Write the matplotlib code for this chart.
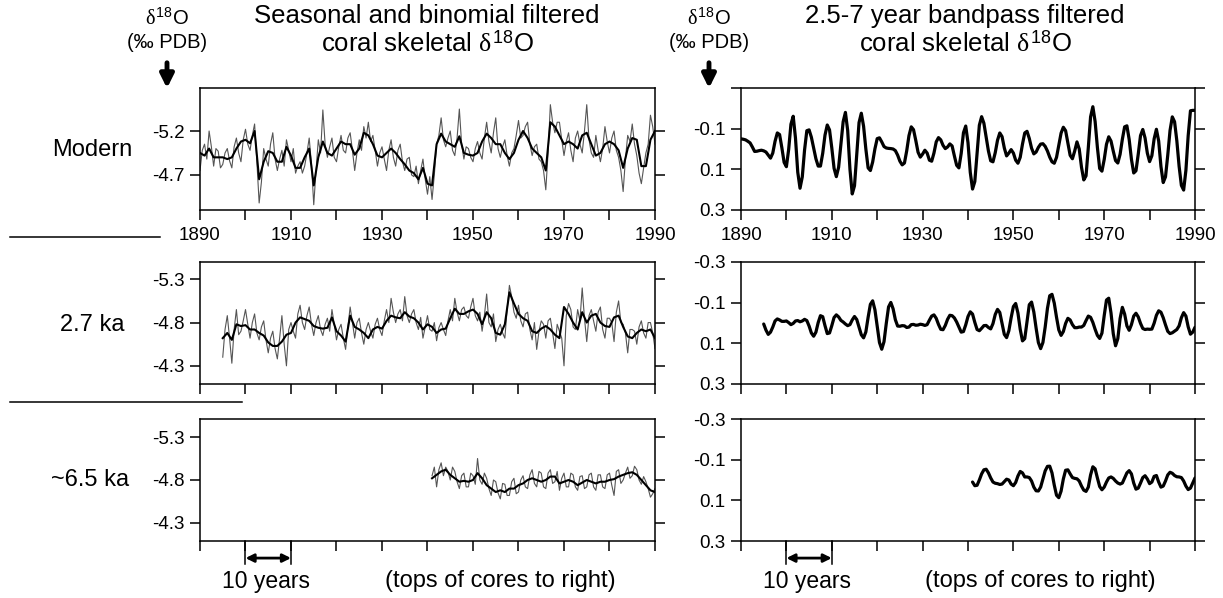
import numpy as np
import matplotlib
matplotlib.use("Agg")
import matplotlib.pyplot as plt
from matplotlib.lines import Line2D

plt.rcParams["font.family"] = ["Liberation Sans", "DejaVu Sans"]
plt.rcParams["axes.unicode_minus"] = False
plt.rcParams["mathtext.fontset"] = "custom"
plt.rcParams["mathtext.rm"] = "Liberation Sans"
plt.rcParams["mathtext.it"] = "Liberation Serif"

# ---- seasonal / binomial filtered d18O ----
# *_RAW: values at whole years, *_MID: values half a year later, *_SMOOTH: binomial line (yearly)
MOD_START = 1890
MOD_RAW = [-4.75, -5.05, -5.20, -4.80, -4.97, -4.82, -5.00, -4.78, -5.12, -4.85,
           -5.22, -4.98, -5.28, -4.38, -5.00, -4.80, -5.18, -4.75, -4.98, -5.10,
           -4.85, -4.72, -4.85, -4.80, -5.12, -4.36, -5.10, -5.44, -4.90, -5.12,
           -4.85, -5.15, -4.95, -5.18, -4.75, -5.10, -5.25, -5.30, -5.15, -4.80,
           -5.02, -4.75, -5.10, -4.80, -5.05, -4.75, -4.90, -4.68, -4.60, -4.88,
           -4.48, -4.42, -5.05, -5.35, -5.02, -5.20, -4.92, -5.45, -4.88, -5.00,
           -4.85, -5.08, -4.88, -5.30, -4.95, -5.35, -4.90, -5.10, -4.80, -5.00,
           -5.32, -5.15, -5.30, -4.92, -5.05, -4.85, -4.53, -5.50, -5.18, -5.30,
           -4.92, -5.18, -4.85, -5.20, -4.95, -5.50, -4.95, -5.15, -4.85, -5.25,
           -4.95, -5.20, -4.90, -4.51, -5.15, -5.28, -4.92, -4.60, -4.95, -5.38,
           -5.05]
MOD_MID = [-4.98, -4.88, -5.02, -5.00, -4.78, -4.95, -4.86, -5.02, -4.95, -5.10,
           -5.05, -5.15, -4.85, -4.62, -4.88, -5.05, -4.88, -4.88, -4.80, -4.98,
           -5.00, -4.80, -4.72, -4.95, -4.82, -4.75, -4.95, -5.05, -5.02, -4.90,
           -5.02, -4.98, -5.12, -4.98, -4.95, -4.98, -5.12, -5.08, -4.98, -4.95,
           -4.88, -4.98, -4.90, -4.98, -4.85, -4.88, -4.70, -4.80, -4.75, -4.65,
           -4.68, -4.70, -5.15, -5.10, -5.12, -4.98, -5.12, -5.05, -5.02, -4.90,
           -5.00, -4.95, -5.12, -5.08, -5.18, -5.00, -5.02, -4.92, -4.95, -5.15,
           -5.12, -5.25, -5.05, -5.02, -4.88, -4.75, -4.95, -5.30, -5.30, -5.10,
           -5.08, -4.98, -5.12, -5.05, -5.20, -5.10, -4.90, -4.98, -5.00, -5.08,
           -5.12, -4.98, -4.75, -4.88, -5.08, -5.05, -4.72, -4.78, -5.05, -5.25]
MOD_SMOOTH = [-4.95, -4.92, -5.00, -4.90, -4.90, -4.90, -4.88, -4.90, -5.00, -5.08,
              -5.10, -5.06, -5.20, -4.65, -4.85, -4.97, -4.95, -4.85, -4.85, -5.02,
              -4.92, -4.78, -4.78, -4.90, -5.00, -4.58, -4.90, -5.08, -4.95, -4.92,
              -5.00, -5.08, -5.05, -5.05, -4.93, -5.00, -5.18, -5.15, -5.05, -4.92,
              -4.90, -4.95, -5.00, -4.95, -4.88, -4.82, -4.75, -4.72, -4.65, -4.78,
              -4.60, -4.58, -5.05, -5.17, -5.08, -5.05, -5.02, -5.14, -4.95, -4.93,
              -4.92, -4.95, -5.08, -5.17, -5.12, -5.05, -5.05, -4.95, -4.88, -4.95,
              -5.10, -5.20, -5.12, -5.00, -4.95, -4.90, -4.75, -5.30, -5.25, -5.15,
              -5.05, -5.08, -5.05, -5.00, -5.15, -5.18, -5.05, -4.92, -4.95, -5.05,
              -5.08, -5.05, -4.98, -4.78, -5.00, -5.12, -5.10, -4.80, -4.80, -5.10,
              -5.20]

KA27_START = 1895
KA27_RAW = [-4.40, -4.88, -4.33, -4.95, -4.70,
            -4.95, -4.62, -4.90, -4.60, -4.82, -4.45, -4.70, -4.38, -4.88, -4.30,
            -4.80, -4.62, -5.00, -4.72, -4.98, -4.65, -4.88, -4.65, -4.85, -4.95,
            -4.60, -4.78, -4.49, -4.98, -4.62, -4.85, -4.55, -4.80, -4.62, -4.85,
            -4.65, -4.95, -5.08, -4.80, -4.95, -5.10, -4.80, -4.95, -4.72, -4.62,
            -4.88, -4.70, -4.59, -4.80, -4.65, -4.95, -5.08, -4.82, -4.98, -4.85,
            -5.08, -4.82, -4.70, -5.13, -4.75, -4.58, -4.78, -4.62, -5.23, -4.92,
            -5.00, -4.75, -4.92, -4.60, -4.49, -4.82, -4.62, -4.85, -4.50, -4.70,
            -4.30, -5.02, -4.75, -4.95, -5.20, -4.58, -4.95, -4.70, -4.98, -4.62,
            -4.85, -4.58, -5.05, -4.78, -4.45, -4.72, -4.55, -4.82, -4.62, -4.80,
            -4.50]
KA27_MID = [-4.72, -4.62, -4.72, -4.66, -4.82,
            -4.78, -4.80, -4.68, -4.75, -4.60, -4.62, -4.50, -4.62, -4.55, -4.72,
            -4.70, -4.90, -4.80, -4.88, -4.78, -4.80, -4.72, -4.78, -4.70, -4.78,
            -4.72, -4.62, -4.75, -4.80, -4.80, -4.68, -4.72, -4.70, -4.78, -4.72,
            -4.82, -4.80, -4.92, -4.90, -4.82, -4.88, -4.90, -4.80, -4.86, -4.75,
            -4.72, -4.80, -4.74, -4.72, -4.82, -4.82, -4.92, -4.95, -4.88, -4.98,
            -4.88, -4.92, -4.88, -4.80, -4.90, -4.72, -4.68, -4.95, -5.10, -4.85,
            -4.82, -4.90, -4.72, -4.80, -4.70, -4.78, -4.82, -4.68, -4.78, -4.62,
            -4.88, -4.95, -4.72, -4.82, -4.85, -4.88, -4.82, -4.92, -4.72, -4.85,
            -4.80, -4.92, -4.80, -4.68, -4.72, -4.70, -4.75, -4.68, -4.80, -4.68]
KA27_SMOOTH = [-4.62, -4.68, -4.60, -4.78, -4.76,
               -4.77, -4.72, -4.72, -4.68, -4.65, -4.57, -4.53, -4.53, -4.58, -4.66,
               -4.68, -4.80, -4.86, -4.84, -4.82, -4.76, -4.74, -4.73, -4.74, -4.86,
               -4.70, -4.65, -4.58, -4.88, -4.75, -4.72, -4.68, -4.62, -4.72, -4.75,
               -4.73, -4.82, -4.88, -4.86, -4.85, -4.92, -4.87, -4.85, -4.80, -4.72,
               -4.78, -4.75, -4.68, -4.72, -4.73, -4.85, -4.96, -4.90, -4.90, -4.93,
               -4.95, -4.90, -4.78, -4.92, -4.85, -4.68, -4.66, -4.78, -5.15, -5.02,
               -4.90, -4.85, -4.82, -4.70, -4.68, -4.73, -4.76, -4.72, -4.66, -4.62,
               -4.98, -4.90, -4.80, -4.72, -4.92, -4.80, -4.88, -4.90, -4.80, -4.76,
               -4.75, -4.86, -4.88, -4.75, -4.64, -4.62, -4.68, -4.72, -4.70, -4.72,
               -4.62]

KA65_START = 1941
KA65_RAW = [-4.85, -4.72, -5.00, -4.95, -4.80, -4.90, -4.70, -4.88, -4.72,
            -4.85, -5.05, -4.75, -4.82, -4.62, -4.78, -4.58, -4.75, -4.62, -4.82,
            -4.66, -4.85, -4.70, -4.92, -4.72, -4.88, -4.70, -4.92, -4.78, -4.68,
            -4.88, -4.72, -4.86, -4.68, -4.85, -4.72, -4.88, -4.68, -4.86, -4.70,
            -4.88, -4.62, -4.92, -4.80, -4.95, -4.85, -4.92, -4.75, -4.78, -4.60,
            -4.70]
KA65_MID = [-4.95, -4.92, -4.85, -4.90, -4.95, -4.78, -4.85, -4.72, -4.88,
            -4.75, -4.80, -4.88, -4.70, -4.80, -4.65, -4.76, -4.62, -4.78, -4.64,
            -4.80, -4.72, -4.86, -4.76, -4.90, -4.72, -4.88, -4.76, -4.90, -4.82,
            -4.72, -4.88, -4.72, -4.84, -4.70, -4.86, -4.72, -4.86, -4.72, -4.86,
            -4.74, -4.90, -4.76, -4.88, -4.82, -4.96, -4.80, -4.84, -4.70, -4.64]
KA65_SMOOTH = [-4.82, -4.86, -4.90, -4.92, -4.86, -4.82, -4.78, -4.79, -4.78,
               -4.80, -4.88, -4.82, -4.74, -4.70, -4.66, -4.68, -4.66, -4.70, -4.70,
               -4.74, -4.76, -4.80, -4.82, -4.80, -4.78, -4.80, -4.84, -4.84, -4.76,
               -4.78, -4.80, -4.78, -4.74, -4.77, -4.80, -4.78, -4.76, -4.78, -4.78,
               -4.80, -4.81, -4.84, -4.86, -4.88, -4.89, -4.86, -4.80, -4.74, -4.68,
               -4.66]

# ---- 2.5-7 year bandpass filtered d18O (half-year values) ----
MOD_BP_START = 1890
MOD_BP = [-0.050, -0.048, -0.045, -0.038, -0.030, -0.010, 0.012, 0.011, 0.008, 0.006,
          0.009, 0.015, 0.030, 0.045, 0.020, -0.038, -0.079, -0.071, -0.006, 0.066,
          0.087, 0.002, -0.122, -0.161, -0.054, 0.114, 0.193, 0.137, 0.005, -0.090,
          -0.094, -0.058, -0.005, 0.048, 0.084, 0.084, 0.021, -0.068, -0.118, -0.094,
          -0.005, 0.095, 0.136, 0.090, -0.022, -0.134, -0.180, -0.091, 0.100, 0.221,
          0.181, 0.023, -0.130, -0.176, -0.112, 0.000, 0.093, 0.106, 0.064, -0.001,
          -0.051, -0.055, -0.035, -0.012, -0.005, -0.003, -0.002, 0.000, 0.008, 0.030,
          0.060, 0.078, 0.069, 0.009, -0.066, -0.109, -0.095, -0.042, 0.016, 0.040,
          0.025, 0.006, 0.020, 0.055, 0.060, 0.020, -0.035, -0.056, -0.045, -0.018,
          -0.002, -0.010, -0.025, -0.015, 0.034, 0.080, 0.093, 0.022, -0.080, -0.113,
          -0.031, 0.115, 0.197, 0.160, 0.020, -0.117, -0.159, -0.127, -0.060, 0.010,
          0.058, 0.063, 0.018, -0.043, -0.079, -0.061, -0.005, 0.034, 0.020, 0.003,
          0.020, 0.055, 0.070, 0.041, -0.024, -0.079, -0.087, -0.052, -0.004, 0.024,
          0.015, -0.008, -0.024, -0.026, -0.013, 0.010, 0.040, 0.063, 0.070, 0.041,
          -0.019, -0.078, -0.107, -0.090, -0.029, 0.031, 0.048, 0.010, -0.035, 0.000,
          0.090, 0.152, 0.132, -0.007, -0.158, -0.208, -0.135, -0.008, 0.096, 0.109,
          0.052, -0.023, -0.060, -0.039, 0.011, 0.057, 0.069, 0.026, -0.048, -0.109,
          -0.114, -0.047, 0.051, 0.118, 0.107, 0.025, -0.066, -0.096, -0.054, 0.020,
          0.062, 0.033, -0.050, -0.097, -0.039, 0.086, 0.165, 0.137, 0.030, -0.091,
          -0.158, -0.134, -0.040, 0.085, 0.179, 0.202, 0.104, -0.066, -0.188, -0.190,
          -0.190]

KA27_BP_START = 1895
KA27_BP = [0.005, 0.035, 0.056, 0.045, 0.020, -0.010, -0.020, -0.015, -0.008, -0.008,
           -0.010, -0.002, 0.008, 0.002, -0.010, -0.012, -0.006, -0.010, -0.018, -0.012,
           0.015, 0.049, 0.065, 0.045, -0.002, -0.036, -0.031, 0.013, 0.052, 0.049,
           0.013, -0.027, -0.040, -0.030, -0.013, -0.005, 0.005, 0.013, 0.008, -0.015,
           -0.032, -0.017, 0.020, 0.058, 0.073, 0.044, -0.028, -0.092, -0.109, -0.065,
           0.017, 0.096, 0.129, 0.092, 0.002, -0.079, -0.101, -0.070, -0.016, 0.015,
           0.016, 0.013, 0.014, 0.022, 0.020, 0.008, 0.007, 0.011, 0.010, 0.006,
           0.008, 0.012, 0.008, -0.014, -0.034, -0.040, -0.023, 0.007, 0.031, 0.033,
           0.012, -0.018, -0.038, -0.036, -0.025, -0.005, 0.020, 0.045, 0.042, 0.009,
           -0.032, -0.055, -0.044, -0.003, 0.032, 0.038, 0.026, 0.013, 0.012, 0.022,
           0.029, 0.003, -0.042, -0.067, -0.052, 0.002, 0.056, 0.072, 0.038, -0.026,
           -0.081, -0.096, -0.049, 0.031, 0.088, 0.077, -0.007, -0.090, -0.103, -0.054,
           0.025, 0.096, 0.126, 0.096, 0.020, -0.072, -0.134, -0.141, -0.098, -0.028,
           0.034, 0.061, 0.042, 0.002, -0.023, -0.015, 0.008, 0.023, 0.023, 0.020,
           0.020, 0.012, -0.012, -0.034, -0.028, -0.003, 0.031, 0.061, 0.076, 0.050,
           -0.036, -0.113, -0.122, -0.049, 0.053, 0.112, 0.077, -0.022, -0.077, -0.044,
           0.014, 0.036, 0.008, -0.034, -0.048, -0.030, 0.002, 0.027, 0.032, 0.030,
           0.031, 0.030, 0.001, -0.038, -0.060, -0.053, -0.026, 0.009, 0.041, 0.052,
           0.048, 0.040, 0.032, 0.014, -0.026, -0.051, -0.034, 0.019, 0.055, 0.045,
           0.021]

KA65_BP_START = 1941
KA65_BP = [0.010, 0.028, 0.026, 0.000, -0.030, -0.050, -0.053, -0.035, -0.010, 0.010,
           0.016, 0.018, 0.022, 0.020, 0.008, -0.004, 0.000, 0.020, 0.028, 0.012,
           -0.020, -0.042, -0.035, -0.015, -0.015, -0.012, 0.005, 0.035, 0.053, 0.054,
           0.035, -0.005, -0.045, -0.067, -0.068, -0.035, 0.025, 0.075, 0.087, 0.055,
           -0.005, -0.048, -0.050, -0.030, -0.012, -0.008, -0.006, 0.005, 0.030, 0.050,
           0.056, 0.035, -0.025, -0.065, -0.055, -0.010, 0.032, 0.048, 0.035, 0.010,
           -0.010, -0.015, -0.008, 0.005, 0.015, 0.020, 0.015, -0.010, -0.035, -0.046,
           -0.030, 0.015, 0.045, 0.040, 0.015, -0.012, -0.021, -0.005, 0.018, 0.010,
           -0.018, -0.022, 0.010, 0.035, 0.030, 0.005, -0.025, -0.038, -0.033, -0.022,
           -0.016, -0.015, -0.012, 0.005, 0.030, 0.047, 0.040, 0.015, -0.010]

ROW_LABELS = ["Modern", "2.7 ka", "~6.5 ka"]
LEFT_TICKS = [[-5.2, -4.7], [-5.3, -4.8, -4.3], [-5.3, -4.8, -4.3]]
LEFT_YLIM = [(-4.30, -5.69), (-4.09, -5.50), (-4.09, -5.51)]
RIGHT_TICKS = [-0.3, -0.1, 0.1, 0.3]
YEAR_TICKS = list(range(1890, 1991, 10))

W, H = 1223, 598
fig = plt.figure(figsize=(W / 100, H / 100), dpi=100)


def px_axes(x0, y0, x1, y1):
    """axes from pixel box (top-left origin)."""
    return fig.add_axes([x0 / W, 1 - y1 / H, (x1 - x0) / W, (y1 - y0) / H])


def style(ax, yticks, ylabels, show_years):
    for s in ax.spines.values():
        s.set_linewidth(1.1)
    ax.set_xlim(1890, 1990)
    ax.set_xticks(YEAR_TICKS)
    if show_years:
        ax.set_xticklabels([str(y) if (y - 1890) % 20 == 0 else "" for y in YEAR_TICKS])
    else:
        ax.set_xticklabels([])
    ax.set_yticks(yticks)
    ax.set_yticklabels(ylabels)
    ax.tick_params(axis="both", direction="out", length=7, width=1.1, labelsize=13.5)
    ax.tick_params(axis="y", right=True, pad=4)
    ax.tick_params(axis="x", pad=5)


def scale_bar(ax):
    """'10 years' arrow and the footnote under a bottom panel."""
    tr = ax.get_xaxis_transform()
    for yr in (1900, 1910):
        ax.plot([yr, yr], [0, -0.19], transform=tr, color="black", lw=1.1, clip_on=False)
    ax.annotate("", xy=(1910, -0.14), xytext=(1900, -0.14), xycoords=tr, textcoords=tr,
                arrowprops=dict(arrowstyle="<|-|>", lw=2, color="black",
                                mutation_scale=12, shrinkA=0, shrinkB=0))
    ax.text(1904.5, -0.33, "10 years", transform=tr, ha="center", va="center", fontsize=16.5)
    ax.text(1956, -0.33, "(tops of cores to right)", transform=tr, ha="center",
            va="center", fontsize=17)


def raw_series(start, whole, mid):
    """merge whole-year and half-year readings into one time-ordered series."""
    t = np.concatenate([start + np.arange(len(whole)), start + 0.5 + np.arange(len(mid))])
    v = np.concatenate([whole, mid])
    order = np.argsort(t)
    return t[order], v[order]


rows_y = [(88, 210), (262, 384), (419, 541)]
label_pos = [(92, 150), (92, 325), (90, 480)]
left_data = [(MOD_START, MOD_RAW, MOD_MID, MOD_SMOOTH),
             (KA27_START, KA27_RAW, KA27_MID, KA27_SMOOTH),
             (KA65_START, KA65_RAW, KA65_MID, KA65_SMOOTH)]
right_data = [(MOD_BP_START, MOD_BP), (KA27_BP_START, KA27_BP), (KA65_BP_START, KA65_BP)]

for i, (y0, y1) in enumerate(rows_y):
    # left: seasonal + binomial
    ax = px_axes(200, y0, 655, y1)
    start, raw, mid, smo = left_data[i]
    t, v = raw_series(start, raw, mid)
    ax.plot(t, v, color="#555555", lw=0.8)
    ax.plot(start + np.arange(len(smo)), smo, color="black", lw=1.5)
    ax.set_ylim(*LEFT_YLIM[i])
    style(ax, LEFT_TICKS[i], [f"{v:.1f}" for v in LEFT_TICKS[i]], i == 0)
    lx, ly = label_pos[i]
    fig.text(lx / W, 1 - ly / H, ROW_LABELS[i], fontsize=17, ha="center", va="center")
    if i == 2:
        scale_bar(ax)

    # right: bandpass
    ax = px_axes(741, y0, 1195, y1)
    start, bp = right_data[i]
    ax.plot(start + 0.5 * np.arange(len(bp)), bp, color="black", lw=2.3,
            solid_joinstyle="round", solid_capstyle="round")
    ax.set_ylim(0.3, -0.3)
    labels = [f"{v:.1f}" for v in RIGHT_TICKS]
    if i == 0:
        labels[0] = ""
    style(ax, RIGHT_TICKS, labels, i == 0)
    if i == 2:
        scale_bar(ax)

# titles
d18 = r"$\delta^{\mathrm{18}}$O"
for cx, line1 in ((427, "Seasonal and binomial filtered"), (965, "2.5-7 year bandpass filtered")):
    fig.text(cx / W, 1 - 16 / H, line1, ha="center", va="center", fontsize=18.5)
    fig.text(cx / W, 1 - 44 / H, "coral skeletal " + d18, ha="center", va="center", fontsize=18.5)

# axis unit labels with arrows
for cx in (167, 709):
    fig.text(cx / W, 1 - 18 / H, d18, ha="center", va="center", fontsize=14.5)
    fig.text(cx / W, 1 - 43 / H, "(\u2030 PDB)", ha="center", va="center", fontsize=14.5)
    fig.add_artist(matplotlib.patches.FancyArrowPatch(
        (cx / W, 1 - 60 / H), (cx / W, 1 - 91 / H), transform=fig.transFigure,
        arrowstyle="-|>", mutation_scale=20, lw=3.5, color="black"))

# separators between rows
fig.add_artist(Line2D([10 / W, 160 / W], [1 - 237 / H, 1 - 237 / H], color="black", lw=1.1))
fig.add_artist(Line2D([10 / W, 242 / W], [1 - 402 / H, 1 - 402 / H], color="black", lw=1.1))

fig.savefig("out.png", dpi=100)
